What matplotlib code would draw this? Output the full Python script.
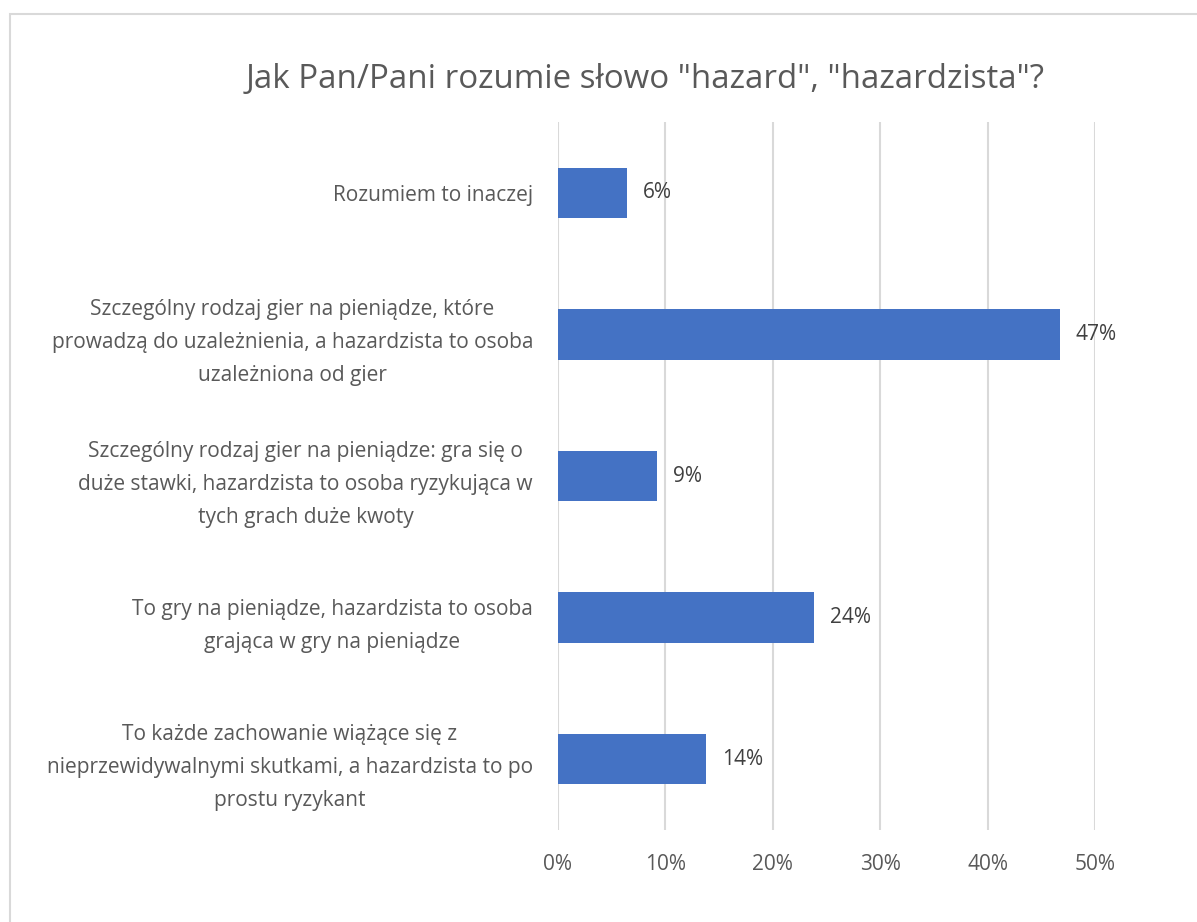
import matplotlib.pyplot as plt
from matplotlib.patches import Rectangle

plt.rcParams['font.family'] = ['Open Sans', 'DejaVu Sans']

categories = [
    'To każde zachowanie wiążące się z\nnieprzewidywalnymi skutkami, a hazardzista to po\nprostu ryzykant',
    'To gry na pieniądze, hazardzista to osoba\ngrająca w gry na pieniądze',
    'Szczególny rodzaj gier na pieniądze: gra się o\nduże stawki, hazardzista to osoba ryzykująca w\ntych grach duże kwoty',
    'Szczególny rodzaj gier na pieniądze, które\nprowadzą do uzależnienia, a hazardzista to osoba\nuzależniona od gier',
    'Rozumiem to inaczej',
]
values = [13.8, 23.8, 9.2, 46.7, 6.4]
labels = ['14%', '24%', '9%', '47%', '6%']
ticks = [0, 10, 20, 30, 40, 50]

W, H = 1197, 922
fig = plt.figure(figsize=(W / 100, H / 100), dpi=100)
ax = fig.add_axes([558 / W, 1 - 830 / H, (1095 - 558) / W, (830 - 122) / H])

y = range(len(categories))
ax.barh(y, values, height=0.355, color='#4472C4', zorder=3)
for yi, v, lab in zip(y, values, labels):
    ax.text(v + 1.5, yi, lab, va='center', ha='left', fontsize=15, color='#404040')

ax.set_xlim(0, 50)
ax.set_ylim(-0.5, 4.5)
ax.set_xticks(ticks)
ax.set_xticklabels([f'{t}%' for t in ticks], fontsize=15, color='#595959')
ax.set_yticks(list(y))
ax.set_yticklabels(categories, fontsize=15, color='#595959', ha='right',
                   multialignment='center', linespacing=1.75)
ax.tick_params(axis='y', length=0, pad=18)
ax.tick_params(axis='x', length=0, pad=17)
ax.grid(axis='x', color='#D9D9D9', linewidth=1.5, zorder=0)
for s in ax.spines.values():
    s.set_visible(False)

fig.text(645 / W, 1 - 80 / H, 'Jak Pan/Pani rozumie słowo "hazard", "hazardzista"?',
         ha='center', va='center', fontsize=23.8, color='#595959')

fig.patches.append(Rectangle((10 / W, -0.01), 1.2, 1 - 14 / H + 0.01,
                             transform=fig.transFigure, fill=False,
                             edgecolor='#D9D9D9', linewidth=1.5))

fig.savefig('out.png', dpi=100)
